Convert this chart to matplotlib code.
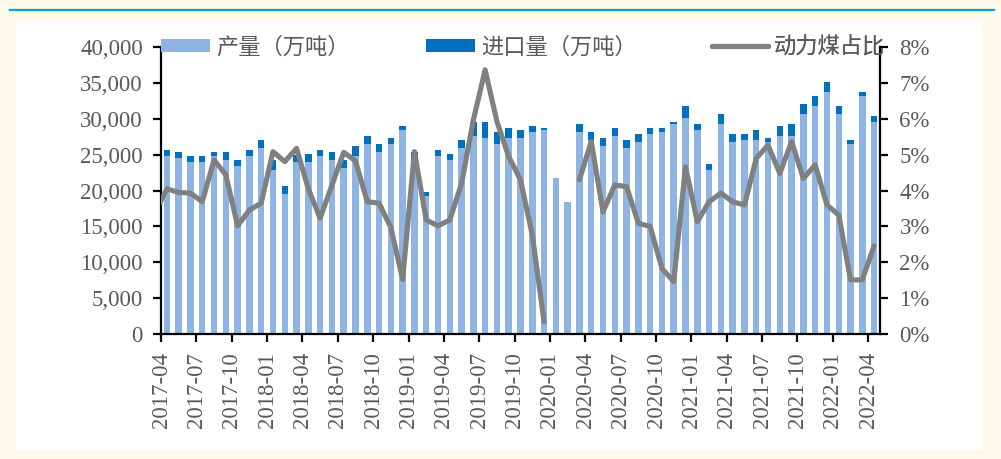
import numpy as np
import pandas as pd
import matplotlib
matplotlib.use('Agg')
import matplotlib.pyplot as plt
from matplotlib.patches import Rectangle
from matplotlib.lines import Line2D
from matplotlib.ticker import FuncFormatter, MultipleLocator

# ---------------- data ----------------
months = pd.period_range('2017-04', '2022-04', freq='M').strftime('%Y-%m').tolist()

production = [24830, 24550, 24000, 24000, 24830, 24270, 23440, 24830, 25950, 22900,
              19530, 24000, 24000, 24830, 24270, 23160, 24830, 26500, 25390, 26500,
              28460, 24300, 19250, 24830, 24270, 25950, 27620, 27340, 26500, 27340,
              27340, 28180, 28460, 21760, 18410, 28180, 27060, 26230, 27620, 25950,
              26780, 27900, 28180, 29300, 30130, 28460, 22880, 29300, 26780, 27060,
              27060, 26780, 27620, 27620, 30690, 31810, 33760, 30690, 26500, 33200,
              29570]

imports = [840, 840, 840, 840, 560, 1120, 840, 840, 1120, 1380,
           1120, 970, 1120, 840, 1120, 1120, 1400, 1120, 1120, 840,
           560, 1100, 560, 840, 840, 1120, 1950, 2230, 1670, 1400,
           1120, 840, 280, 0, 0, 1120, 1120, 1120, 1120, 1120,
           1120, 840, 560, 280, 1670, 840, 840, 1400, 1120, 840,
           1400, 560, 1400, 1670, 1400, 1400, 1400, 1120, 560, 560,
           840]

share_2017_03 = 3.4  # preceding month, clipped at the axis edge
share = [4.05, 3.95, 3.93, 3.69, 4.86, 4.44, 3.02, 3.46, 3.65, 5.09,
         4.81, 5.18, 4.05, 3.23, 4.15, 5.07, 4.83, 3.69, 3.65, 2.97,
         1.52, 5.09, 3.18, 3.02, 3.18, 4.20, 5.97, 7.37, 5.93, 4.95,
         4.30, 2.76, 0.34, np.nan, np.nan, 4.30, 5.37, 3.41, 4.16, 4.11,
         3.09, 3.00, 1.83, 1.46, 4.67, 3.13, 3.69, 3.93, 3.69, 3.60,
         4.90, 5.27, 4.48, 5.37, 4.34, 4.72, 3.60, 3.32, 1.51, 1.51,
         2.46]

labels = ['产量（万吨）', '进口量（万吨）', '动力煤占比']

# ---------------- style ----------------
W, H = 1001, 459
GRAY_TXT = '#595959'
FS = 16.5
num_font = 'Liberation Serif'

fig = plt.figure(figsize=(W / 100, H / 100), dpi=100)
fig.patch.set_facecolor('#FFF9EC')
fig.patches.append(Rectangle((16 / W, 1 - 450 / H), (983 - 16) / W, (450 - 20) / H,
                             transform=fig.transFigure, facecolor='white',
                             edgecolor='none', zorder=-10))
fig.lines.append(Line2D([10 / W, 994 / W], [1 - 10 / H, 1 - 10 / H],
                        transform=fig.transFigure, color='#00A0E9', lw=1.6,
                        zorder=-10))

L, R, T, B = 161, 880, 47.3, 334
ax = fig.add_axes([L / W, 1 - B / H, (R - L) / W, (B - T) / H])
ax.set_facecolor('none')

x = np.arange(len(months)) + 0.5
b1 = ax.bar(x, production, width=0.55, color='#8EB4E3', label=labels[0], zorder=2)
b2 = ax.bar(x, imports, bottom=production, width=0.55, color='#0070C0',
            label=labels[1], zorder=2)
ax.set_xlim(0, len(months))
ax.set_ylim(0, 40000)
ax.yaxis.set_major_locator(MultipleLocator(5000))
ax.yaxis.set_major_formatter(FuncFormatter(lambda v, p: f'{int(v):,}'))
ax.set_xticks(np.arange(0, len(months), 3))
ax.set_xticklabels(months[::3], rotation=90)

ax2 = ax.twinx()
xl = np.concatenate([[-0.5], x])
yl = np.array([share_2017_03] + share, dtype=float)
ln, = ax2.plot(xl, yl, color='#808080', lw=3.7, solid_capstyle='round',
               solid_joinstyle='round', label=labels[2], zorder=3)
ax2.set_ylim(0, 8)
ax2.set_xlim(0, len(months))
ax2.yaxis.set_major_locator(MultipleLocator(1))
ax2.yaxis.set_major_formatter(FuncFormatter(lambda v, p: f'{int(round(v))}%'))

for a in (ax, ax2):
    for s in a.spines.values():
        s.set_linewidth(1.6)
        s.set_color('black')
    a.spines['top'].set_visible(False)
ax2.spines['left'].set_visible(False)
ax2.spines['bottom'].set_visible(False)
ax.spines['right'].set_visible(False)

ax.tick_params(axis='x', direction='out', length=6, width=1.6, pad=7,
               labelsize=FS, labelcolor=GRAY_TXT)
ax.tick_params(axis='y', direction='out', length=6, width=1.6, pad=7,
               labelsize=FS, labelcolor=GRAY_TXT)
ax2.tick_params(axis='y', direction='out', length=6, width=1.6, pad=8,
                labelsize=FS, labelcolor=GRAY_TXT)
for lab in ax.get_xticklabels() + ax.get_yticklabels() + ax2.get_yticklabels():
    lab.set_fontfamily(num_font)

# legends (three separate entries, positioned as in the reference)
leg_font = {'family': ['Noto Sans CJK SC', 'DejaVu Sans'], 'size': 16}
specs = [(b1, labels[0], 161, 2.2), (b2, labels[1], 426, 2.2), (ln, labels[2], 712, 2.5)]
for h, lab, xpx, hl in specs:
    lg = ax2.legend([h], [lab], loc='center left',
                    bbox_to_anchor=(xpx / W, 1 - 47 / H),
                    bbox_transform=fig.transFigure, frameon=False, borderpad=0,
                    borderaxespad=0, handlelength=hl, handleheight=0.54,
                    handletextpad=0.3, prop=leg_font, labelcolor=GRAY_TXT)
    ax2.add_artist(lg)

fig.savefig('out.png', dpi=100, facecolor=fig.get_facecolor())
